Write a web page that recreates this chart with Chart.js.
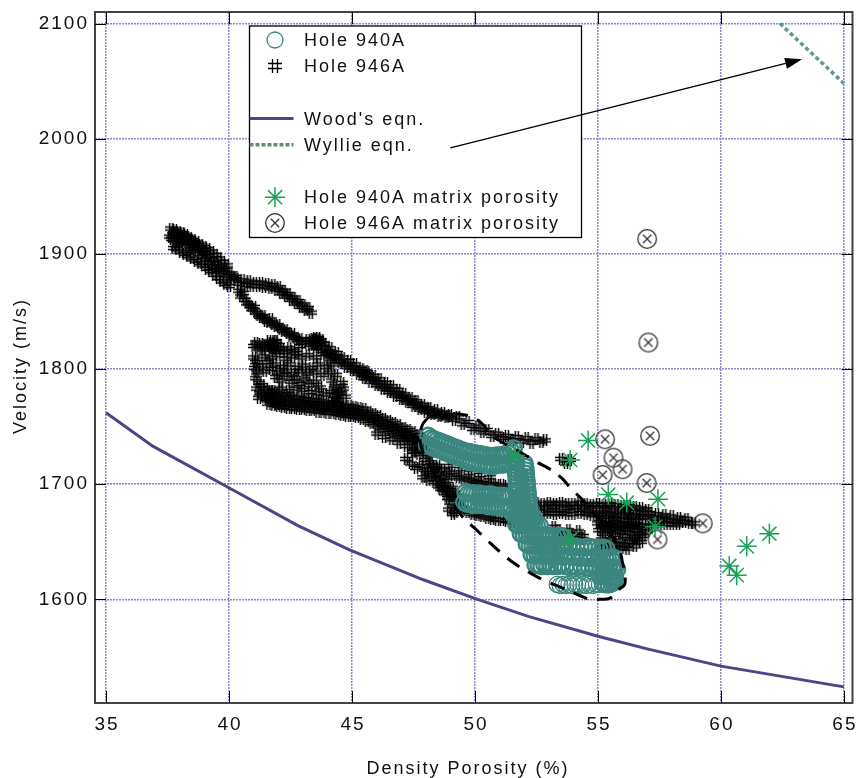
<!DOCTYPE html>
<html>
<head>
<meta charset="utf-8">
<title>Velocity vs density porosity</title>
<script src="https://cdn.jsdelivr.net/npm/chart.js@4.4.1/dist/chart.umd.min.js"></script>
<style>
  html, body { margin: 0; padding: 0; background: #fff; overflow: hidden; }
  canvas { display: block; }
</style>
</head>
<body>
<canvas id="velocityChart" width="864" height="778"></canvas>
<script>
const FONT = '"Liberation Sans", Arial, Helvetica, sans-serif';

// Axis ticks
const xTickValues = [35, 40, 45, 50, 55, 60, 65];
const yTickValues = [1600, 1700, 1800, 1900, 2000, 2100];

// Model curves
const woodPorosity = [35, 36.9, 39.9, 42.8, 44.9, 47.9, 50.1, 52.2, 55, 57, 60, 65];
const woodVelocity = [1762, 1733, 1698, 1664, 1643, 1617, 1600, 1585, 1568, 1557, 1542, 1524];
const wylliePorosity = [62.4, 65];
const wyllieVelocity = [2100, 2048];

// Hole 940A log samples [porosity %, velocity m/s]
const hole940A = [
  // upper lobe
  [48.10,1742],[48.22,1740],[48.34,1739],[48.46,1738],[48.58,1737],[48.70,1736],[48.82,1735],[48.94,1734],
  [49.06,1733],[49.18,1732],[49.30,1731],[49.42,1730],[49.54,1729],[49.66,1728],[49.78,1728],[49.90,1727],
  [50.02,1727],[50.14,1726],[50.26,1726],[50.38,1725],[50.50,1725],[50.62,1724],[50.74,1724],[50.86,1725],
  [50.98,1725],[51.10,1725],[51.22,1726],[51.34,1727],[51.46,1729],[51.58,1731],
  [48.05,1734],[48.16,1733],[48.28,1732],[48.40,1731],[48.52,1730],[48.64,1729],[48.76,1728],[48.88,1727],
  [49.00,1726],[49.12,1725],[49.24,1724],[49.36,1723],[49.48,1722],[49.60,1721],[49.72,1720],[49.84,1719],
  [49.96,1719],[50.08,1718],[50.20,1718],[50.32,1717],[50.44,1717],[50.56,1716],[50.68,1716],[50.80,1716],
  [50.92,1717],[51.04,1717],[51.16,1717],[51.28,1718],[51.40,1719],[51.52,1721],[51.64,1722],
  // steep limb
  [51.68,1722],[51.67,1719],[51.66,1716],[51.66,1713],[51.67,1710],[51.68,1707],[51.70,1704],[51.70,1701],
  [51.71,1698],[51.72,1695],[51.73,1692],[51.74,1689],[51.75,1686],[51.76,1683],[51.78,1680],[51.80,1677],
  [51.82,1674],[51.84,1671],[51.87,1668],
  [52.02,1718],[52.04,1715],[52.06,1712],[52.07,1709],[52.08,1706],[52.10,1703],[52.11,1700],[52.12,1697],
  [52.14,1694],[52.15,1691],[52.17,1688],[52.18,1685],[52.20,1682],[52.22,1679],[52.24,1676],[52.26,1673],
  [52.29,1670],[52.32,1667],
  // middle lobe
  [49.61,1693],[49.73,1692],[49.85,1692],[49.97,1692],[50.09,1692],
  [50.21,1692],[50.33,1691],[50.45,1691],[50.57,1691],[50.69,1691],[50.81,1690],[50.93,1690],[51.05,1690],
  [51.17,1690],[51.29,1689],[51.41,1689],
  [49.56,1684],[49.68,1683],[49.80,1683],[49.92,1682],[50.04,1682],
  [50.16,1682],[50.28,1682],[50.40,1682],[50.52,1681],[50.64,1681],[50.76,1681],[50.88,1681],[51.00,1680],
  [51.12,1680],[51.24,1680],[51.36,1680],[51.48,1679],
  // lower lobe
  [51.55,1674],[51.67,1673],[51.79,1673],[51.91,1674],[52.03,1673],[52.15,1672],[52.27,1673],[52.38,1672],
  [51.68,1665],[51.80,1664],[51.92,1665],[52.04,1665],[52.16,1664],[52.28,1664],[52.40,1665],[52.52,1664],[52.64,1664],
  [51.86,1657],[51.98,1656],[52.10,1656],[52.22,1655],[52.34,1656],[52.46,1656],[52.58,1655],[52.70,1655],
  [52.82,1656],[52.94,1655],[53.06,1655],[53.20,1654],[53.34,1655],[53.48,1655],[53.60,1654],
  [52.10,1648],[52.22,1647],[52.34,1647],[52.46,1647],[52.58,1646],[52.70,1647],[52.82,1647],[52.94,1646],
  [53.06,1647],[53.18,1646],[53.32,1646],[53.48,1647],[53.64,1646],[53.80,1646],[53.96,1645],[54.12,1646],
  [54.28,1645],[54.44,1645],[54.60,1646],[54.76,1645],[54.92,1645],[55.06,1644],[55.20,1645],[55.34,1644],
  [52.30,1639],[52.42,1638],[52.54,1639],[52.66,1638],[52.78,1638],[52.90,1639],[53.02,1638],[53.14,1638],
  [53.28,1637],[53.44,1638],[53.60,1637],[53.76,1638],[53.92,1637],[54.08,1637],[54.24,1636],[54.40,1637],
  [54.56,1636],[54.72,1636],[54.88,1637],[55.04,1636],[55.18,1635],[55.30,1636],[55.42,1635],[55.54,1635],[55.66,1636],
  [52.46,1630],[52.58,1630],[52.70,1629],[52.82,1630],[52.94,1629],[53.06,1630],[53.20,1629],[53.36,1629],
  [53.52,1630],[53.68,1629],[53.84,1628],[54.00,1629],[54.16,1628],[54.32,1629],[54.48,1628],[54.64,1628],
  [54.80,1629],[54.96,1628],[55.10,1627],[55.22,1628],[55.34,1627],[55.46,1628],[55.58,1627],[55.70,1628],[55.78,1626],
  [55.10,1620],[55.22,1621],[55.34,1620],[55.46,1619],[55.58,1620],[55.70,1619],[55.66,1625],[55.64,1617],
  [55.20,1614],[55.32,1613],[55.44,1613],[55.56,1614],[55.66,1615]
];
// deepest 940A samples, a loose row under the lower lobe
const hole940ABase = [
  [53.34,1613],[53.46,1612],[53.58,1613],[53.70,1612],[53.82,1613],[53.94,1612],[54.06,1613],[54.18,1613],
  [54.30,1612],[54.42,1613],[54.54,1612],[54.66,1613],[54.80,1612],[54.94,1613],[55.06,1613]
];

// Hole 946A log samples [porosity %, velocity m/s]
const hole946A = [
  // shallow end
  [37.60,1915],[37.72,1917],[37.80,1912],[37.88,1916],[37.95,1910],[38.02,1914],[38.10,1917],[38.15,1911],
  [38.22,1914],[38.30,1909],[38.36,1912],[38.44,1907],[38.50,1910],[38.56,1905],[38.62,1908],[38.70,1903],
  [38.76,1906],[38.82,1900],[38.88,1904],[38.95,1898],[39.02,1901],[39.08,1895],[39.15,1898],[39.22,1892],
  [39.30,1895],[39.38,1889],[39.46,1892],[39.55,1886],[39.64,1888],[39.74,1884],[39.84,1886],[39.95,1881],
  [40.05,1883],[40.15,1879],[40.26,1880],[37.68,1913],[37.84,1918],[38.05,1909],[38.28,1915],[38.40,1904],
  [37.65,1922],[37.80,1921],[37.95,1919],[38.10,1918],[38.25,1916],[38.40,1914],[38.55,1912],[38.70,1910],
  [38.85,1908],[39.00,1906],[39.15,1904],[39.30,1902],[39.45,1899],[39.60,1896],[39.75,1893],[39.90,1890],
  [37.75,1905],[37.90,1904],[38.05,1902],[38.20,1900],[38.35,1898],[38.50,1896],[38.65,1894],[38.80,1892],
  [38.95,1890],[39.10,1887],[39.25,1885],[39.40,1882],[39.55,1879],[39.70,1876],[39.85,1874],[40.00,1872],
  // upper branch
  [40.30,1878],[40.42,1874],[40.55,1877],[40.68,1873],[40.80,1876],[40.92,1872],[41.05,1875],[41.18,1872],
  [41.30,1875],[41.42,1871],[41.55,1874],[41.68,1870],[41.80,1873],[41.92,1869],[42.02,1871],[42.12,1866],
  [42.22,1868],[42.32,1863],[42.42,1865],[42.52,1860],[42.62,1862],[42.72,1857],[42.82,1859],[42.92,1854],
  [43.02,1856],[43.12,1851],[43.22,1853],[43.32,1849],
  // lower branch
  [40.40,1868],[40.50,1863],[40.58,1866],[40.66,1860],[40.75,1857],[40.84,1855],[40.94,1852],[41.02,1854],
  [41.10,1849],[41.20,1847],[41.30,1845],[41.40,1846],[41.50,1842],[41.60,1841],[41.70,1843],[41.80,1839],
  [41.90,1837],[42.00,1838],[42.10,1835],[42.20,1833],[42.30,1834],[42.40,1831],[42.50,1829],[42.60,1830],
  [42.70,1827],[42.80,1825],[42.90,1826],
  // middle cluster
  [41.00,1820],[41.10,1823],[41.20,1818],[41.30,1822],[41.40,1817],[41.50,1820],[41.62,1824],[41.70,1819],
  [41.75,1822],[41.80,1817],[41.85,1821],[41.90,1824],[41.95,1818],[42.05,1821],[42.15,1817],[42.30,1815],
  [42.45,1818],[42.60,1816],[42.75,1814],[42.90,1820],[43.05,1823],[43.20,1825],[43.30,1821],[43.40,1826],
  [43.45,1822],[43.50,1819],[43.55,1824],[43.62,1827],[43.68,1821],[43.75,1825],[43.85,1822],
  [41.75,1818],[41.85,1824],[41.70,1823],[43.45,1825],[43.55,1821],[43.50,1827],
  [41.02,1810],[41.10,1806],[41.05,1801],[41.15,1797],[41.08,1792],[41.20,1788],[41.15,1783],[41.25,1779],
  [41.22,1775],[41.35,1786],[41.40,1777],[41.50,1781],[41.55,1774],[41.65,1778],[41.75,1772],[41.85,1776],
  [41.95,1770],[42.05,1773],[41.30,1803],[41.45,1798],[41.60,1806],[41.70,1800],
  [41.90,1793],[42.10,1790],[42.30,1795],[42.50,1789],[42.70,1792],[42.90,1787],[43.10,1791],[43.30,1786],
  [43.50,1789],[43.70,1784],
  [41.40,1811],[41.70,1810],[42.00,1812],[42.30,1809],[42.60,1811],[42.90,1810],[43.20,1812],[43.50,1810],
  [43.80,1813],[44.05,1809],
  [41.85,1804],[42.15,1802],[42.45,1804],[42.75,1801],[43.05,1803],[43.35,1801],[43.65,1804],[43.95,1802],[44.20,1804],
  [42.00,1797],[42.30,1798],[42.60,1796],[42.90,1798],[43.20,1796],[43.50,1797],[43.80,1795],[44.10,1797],[44.35,1795],
  [41.80,1781],[42.10,1783],[42.40,1781],[42.70,1783],[43.00,1782],[43.30,1780],[43.60,1779],[43.90,1778],[44.15,1780],
  [44.30,1785],[44.40,1781],[44.35,1777],[44.45,1773],[44.40,1769],[44.50,1779],[44.28,1774],[44.50,1766],
  [44.60,1788],[44.65,1783],[44.70,1776],[44.20,1790],
  // upper limb
  [43.60,1826],[43.70,1818],[43.85,1822],[44.00,1814],[44.12,1818],[44.25,1810],[44.38,1814],[44.50,1806],
  [44.62,1810],[44.75,1802],[44.88,1807],[45.00,1799],[45.12,1804],[45.25,1796],[45.38,1800],[45.50,1792],
  [45.62,1797],[45.75,1789],[45.88,1794],[46.00,1786],[46.12,1791],[46.25,1783],[46.38,1788],[46.50,1780],
  [46.62,1785],[46.75,1777],[46.88,1782],[47.00,1774],[47.12,1778],[47.25,1771],[47.38,1775],[47.50,1768],
  [47.62,1772],[47.75,1765],[47.88,1769],[48.00,1763],[48.14,1766],[48.28,1761],[48.42,1764],[48.56,1759],
  [48.70,1762],[48.84,1758],[48.98,1760],[49.15,1756],[49.30,1758],[49.50,1752],[49.70,1754],[49.90,1748],
  [50.10,1750],[50.30,1745],[50.50,1747],[50.70,1742],[50.90,1744],[51.10,1740],[51.30,1742],[51.50,1738],
  [51.70,1741],[51.90,1737],[52.10,1740],[52.30,1736],[52.50,1739],[52.70,1737],[52.85,1738],
  [53.50,1722],[53.70,1718],[53.85,1721],[45.55,1798],[45.65,1794],[45.45,1795],
  [44.06,1815],[44.31,1811],[44.56,1807],[44.81,1804],[45.06,1801],[45.31,1798],[45.56,1795],[45.81,1792],
  [46.06,1788],[46.31,1785],[46.56,1782],[46.81,1779],[47.06,1776],[47.31,1773],[47.56,1770],[47.81,1767],
  [48.06,1765],[48.35,1762],[48.63,1760],[48.91,1759],
  // lower limb
  [41.50,1783],[41.70,1781],[41.90,1779],[42.10,1778],[42.30,1777],[42.50,1776],[42.70,1775],[42.90,1775],
  [43.10,1774],[43.30,1773],[43.50,1773],[43.70,1772],[43.90,1771],[44.10,1770],[44.30,1770],[44.50,1769],
  [44.70,1768],[44.90,1768],[45.10,1767],[45.30,1766],[45.50,1765],[45.70,1763],[45.90,1761],[46.10,1759],
  [46.30,1757],[46.50,1755],[46.70,1753],[46.90,1751],[47.10,1749],[47.30,1747],[47.50,1745],[47.70,1743],
  [41.60,1770],[41.80,1769],[42.00,1768],[42.20,1767],[42.40,1766],[42.60,1766],[42.80,1765],[43.00,1765],
  [43.20,1764],[43.40,1764],[43.60,1763],[43.80,1763],[44.00,1762],[44.20,1762],[44.40,1761],[44.60,1760],
  [44.80,1759],[45.00,1759],[45.20,1758],[45.40,1757],[45.60,1755],[45.80,1753],[46.00,1751],[46.20,1749],
  [46.40,1747],[46.60,1745],[46.80,1743],[47.00,1741],[47.20,1739],[47.40,1736],[47.60,1733],[47.80,1730],
  [41.55,1776],[41.75,1775],[41.95,1773],[42.15,1772],[42.35,1771],[42.55,1771],[42.75,1770],[42.95,1770],
  [43.15,1769],[43.35,1769],[43.55,1768],[43.75,1767],[43.95,1767],[44.15,1766],[44.35,1765],[44.55,1765],
  [44.75,1764],[44.95,1763],[45.15,1762],[45.35,1761],[45.55,1760],[45.75,1758],[45.95,1756],[46.15,1754],
  [46.35,1752],[46.55,1750],[46.75,1748],[46.95,1746],[47.15,1744],[47.35,1742],[47.55,1739],[47.75,1737],
  [46.00,1744],[46.30,1741],[46.60,1739],[46.90,1736],[47.20,1733],[47.50,1729],
  // deeper interval beneath 940A
  [47.10,1744],[47.30,1741],[47.50,1739],[47.70,1737],[47.20,1722],[47.40,1718],[47.60,1714],[47.80,1716],
  [48.00,1712],[47.90,1706],[48.10,1704],[47.50,1728],[47.70,1726],[47.95,1728],[48.20,1719],[48.40,1714],
  [48.30,1708],[48.50,1704],[48.70,1700],[48.60,1696],[48.80,1692],[48.90,1688],[49.00,1684],[48.95,1678],
  [49.10,1674],[49.20,1676],
  [47.90,1740],[48.05,1735],[47.85,1731],[48.15,1726],[47.95,1721],[48.25,1716],[48.05,1710],[48.35,1702],
  [48.55,1698],[48.75,1696],[48.45,1709],[48.65,1705],[48.85,1703],[49.05,1697],[49.15,1692],[49.25,1688],
  [49.05,1690],[48.95,1695],[49.35,1684],[49.30,1690],[49.45,1680],
  [48.50,1716],[48.70,1712],[48.90,1710],[49.10,1708],[49.30,1706],[49.50,1705],[49.70,1704],[49.90,1703],
  [50.10,1702],[50.30,1701],[50.50,1700],[50.70,1700],[50.90,1699],[51.10,1699],[51.30,1698],[49.00,1716],
  [49.40,1713],[49.80,1710],[50.20,1708],[50.60,1706],
  [49.70,1676],[49.90,1674],[50.10,1673],[50.30,1672],[50.50,1671],[50.70,1670],[50.90,1669],[51.10,1669],
  [51.30,1668],[51.50,1667],[51.70,1667],[49.50,1678],[49.30,1680],
  // deepest interval
  [52.50,1684],[52.75,1683],[53.00,1684],[53.25,1683],[53.50,1684],[53.75,1683],[54.00,1683],[54.25,1684],
  [54.50,1683],[54.75,1682],[55.00,1683],[55.25,1682],[55.50,1683],[55.75,1682],[56.00,1681],[56.25,1681],
  [56.50,1680],[56.75,1679],[57.00,1678],
  [52.60,1679],[52.90,1679],[53.20,1680],[53.50,1679],[53.80,1679],[54.10,1680],[54.40,1679],[54.70,1678],
  [55.00,1678],[55.30,1678],[55.60,1678],[55.90,1677],[56.20,1677],[56.50,1676],[56.80,1675],[57.10,1675],
  [57.40,1674],[57.70,1673],[58.00,1672],[58.30,1671],[58.60,1670],
  [52.50,1675],[52.75,1674],[53.00,1675],[53.25,1674],[53.50,1675],[53.75,1674],[54.00,1674],[54.25,1675],
  [54.50,1674],[54.75,1673],[55.00,1674],[55.25,1673],[55.50,1674],[55.75,1673],[56.00,1673],[56.25,1672],
  [56.50,1672],[56.75,1671],[57.00,1671],[57.25,1670],[57.50,1670],[57.75,1669],[58.00,1668],[58.25,1667],
  [58.50,1667],[58.75,1666],[58.90,1666],
  [55.00,1666],[55.25,1665],[55.50,1666],[55.75,1665],[56.00,1665],[56.25,1664],[56.50,1665],[56.75,1664],
  [57.00,1664],[57.25,1664],[57.50,1665],[57.75,1665],[58.00,1665],[58.25,1665],
  [55.05,1660],[55.25,1657],[55.45,1660],[55.65,1656],[55.85,1659],[56.05,1655],[56.25,1658],[56.45,1654],
  [56.65,1657],[55.15,1652],[55.35,1649],[55.55,1652],[55.75,1648],[55.95,1651],[56.15,1647],[56.35,1650],
  [56.55,1652],[56.75,1650],[55.10,1670],[55.40,1669],[55.70,1670],[56.00,1669],[56.30,1668],[56.60,1668],
  [55.15,1664],[55.35,1662],[55.55,1664],[55.75,1661],[55.95,1663],[56.15,1661],[56.35,1663],[56.55,1660],
  [56.75,1662],[55.20,1645],[55.45,1644],[55.70,1644],[55.95,1645],[56.20,1644],[56.50,1646],[56.85,1655],[57.00,1659],
  [53.40,1660],[53.60,1657],[53.80,1660],[54.00,1656],[54.20,1659],[54.40,1655],[53.50,1652],[53.90,1651],
  [54.30,1652],[53.20,1663]
];

// Core-based matrix porosity
const matrix940A = [[51.63,1725],[54.60,1738],[53.87,1721],[55.42,1691],[56.17,1684],[57.44,1687],
  [57.32,1663],[53.87,1652],[60.34,1629],[60.64,1621],[61.05,1646],[61.97,1657]];
const matrix946A = [[57.00,1913],[57.05,1823],[55.29,1739],[57.12,1742],[55.63,1723],[56.00,1713],
  [55.19,1708],[56.98,1701],[59.26,1666],[57.42,1652]];

// Dashed envelope around the 940A cloud
const envelopePorosity = [48.10,48.79,49.60,50.21,50.70,51.14,51.83,52.44,53.05,53.54,53.95,54.35,54.76,
  55.21,55.61,55.82,55.98,56.10,55.82,55.49,55.08,54.68,54.19,53.54,52.76,52.24,51.83,51.30,50.41,50.08,
  49.52,49.27,48.91,48.38,47.93,47.77,47.85,48.10];
const envelopeVelocity = [1758,1761,1760,1754,1742,1736,1728,1720,1713,1705,1695,1687,1676,1666,1654,
  1645,1634,1614,1608,1601,1600,1600,1604,1610,1617,1623,1628,1636,1653,1660,1671,1678,1689,1708,1725,
  1738,1751,1758];

// Arrow from the legend towards the Wyllie curve
const arrowFrom = [49.0, 1992];
const arrowTo = [63.3, 2069];

const legendRows = [
  { label: 'Hole 940A', kind: 'circle' },
  { label: 'Hole 946A', kind: 'hash' },
  null,
  { label: "Wood's eqn.", kind: 'wood' },
  { label: 'Wyllie eqn.', kind: 'wyllie' },
  null,
  { label: 'Hole 940A matrix porosity', kind: 'star' },
  { label: 'Hole 946A matrix porosity', kind: 'circlex' }
];

const TEAL = '#3b867f';
const GREEN = '#19a255';
const WOOD = '#4b4786';
const WYLLIE = '#5f9a92';
const GRID = '#8e87c6';

const toXY = arr => arr.map(p => ({ x: p[0], y: p[1] }));
const zipXY = (xs, ys) => xs.map((v, i) => ({ x: v, y: ys[i] }));

function makeHash() {
  const c = document.createElement('canvas');
  c.width = 12; c.height = 12;
  const g = c.getContext('2d');
  g.strokeStyle = '#000';
  g.lineWidth = 1.5;
  g.beginPath();
  [4.5, 7.5].forEach(p => {
    g.moveTo(p, 0); g.lineTo(p, 12);
    g.moveTo(0, p); g.lineTo(12, p);
  });
  g.stroke();
  return c;
}

function makeCircleX() {
  const c = document.createElement('canvas');
  c.width = 22; c.height = 22;
  const g = c.getContext('2d');
  g.strokeStyle = '#333';
  g.lineWidth = 1.3;
  g.beginPath();
  g.arc(11, 11, 9.3, 0, Math.PI * 2);
  g.moveTo(6.8, 6.8); g.lineTo(15.2, 15.2);
  g.moveTo(15.2, 6.8); g.lineTo(6.8, 15.2);
  g.stroke();
  return c;
}

const hashGlyph = makeHash();
const circleXGlyph = makeCircleX();

function drawStar(ctx, cx, cy, r) {
  ctx.save();
  ctx.strokeStyle = GREEN;
  ctx.lineWidth = 1.5;
  ctx.beginPath();
  for (let k = 0; k < 4; k++) {
    const a = k * Math.PI / 4;
    ctx.moveTo(cx - r * Math.cos(a), cy - r * Math.sin(a));
    ctx.lineTo(cx + r * Math.cos(a), cy + r * Math.sin(a));
  }
  ctx.stroke();
  ctx.restore();
}

function drawLegend(ctx, area) {
  const left = area.left + 154.5, top = area.top + 14;
  const w = 332, h = 211.5;
  ctx.save();
  ctx.fillStyle = '#fff';
  ctx.fillRect(left, top, w, h);
  ctx.strokeStyle = '#000';
  ctx.lineWidth = 1.3;
  ctx.strokeRect(left, top, w, h);
  ctx.font = '18px ' + FONT;
  ctx.fillStyle = '#111';
  ctx.textBaseline = 'middle';
  ctx.textAlign = 'left';
  const sx = left + 25.5;
  legendRows.forEach((row, i) => {
    if (!row) return;
    const ry = top + 14 + i * 26.2;
    ctx.save();
    if (row.kind === 'circle') {
      ctx.strokeStyle = TEAL; ctx.lineWidth = 1.3;
      ctx.beginPath(); ctx.arc(sx, ry, 8, 0, Math.PI * 2); ctx.stroke();
    } else if (row.kind === 'hash') {
      const cx = Math.round(sx), cy = Math.round(ry);
      ctx.strokeStyle = '#000'; ctx.lineWidth = 1.3;
      ctx.beginPath();
      [-2.5, 2.5].forEach(d => {
        ctx.moveTo(cx + d, cy - 7); ctx.lineTo(cx + d, cy + 7);
        ctx.moveTo(cx - 7, cy + d); ctx.lineTo(cx + 7, cy + d);
      });
      ctx.stroke();
    } else if (row.kind === 'wood') {
      ctx.strokeStyle = WOOD; ctx.lineWidth = 3;
      ctx.beginPath(); ctx.moveTo(left, ry); ctx.lineTo(left + 44, ry); ctx.stroke();
    } else if (row.kind === 'wyllie') {
      ctx.strokeStyle = '#5f8f70'; ctx.lineWidth = 3.5; ctx.setLineDash([4, 2]);
      ctx.beginPath(); ctx.moveTo(left, ry); ctx.lineTo(left + 44, ry); ctx.stroke();
    } else if (row.kind === 'star') {
      drawStar(ctx, sx, ry, 10);
    } else if (row.kind === 'circlex') {
      ctx.drawImage(circleXGlyph, Math.round(sx - 11), Math.round(ry - 11));
    }
    ctx.restore();
    ctx.fillText(row.label, left + 54.5, ry + 1);
  });
  ctx.restore();
}

function drawArrow(ctx, xs, ys) {
  const x0 = xs.getPixelForValue(arrowFrom[0]), y0 = ys.getPixelForValue(arrowFrom[1]);
  const x1 = xs.getPixelForValue(arrowTo[0]), y1 = ys.getPixelForValue(arrowTo[1]);
  const ang = Math.atan2(y1 - y0, x1 - x0);
  const len = 17, half = 5.5;
  const bx = x1 - len * Math.cos(ang), by = y1 - len * Math.sin(ang);
  ctx.save();
  ctx.strokeStyle = '#000';
  ctx.fillStyle = '#000';
  ctx.lineWidth = 1.5;
  ctx.beginPath(); ctx.moveTo(x0, y0); ctx.lineTo(bx, by); ctx.stroke();
  ctx.beginPath();
  ctx.moveTo(x1, y1);
  ctx.lineTo(bx + half * Math.sin(ang), by - half * Math.cos(ang));
  ctx.lineTo(bx - half * Math.sin(ang), by + half * Math.cos(ang));
  ctx.closePath();
  ctx.fill();
  ctx.restore();
}

const decorPlugin = {
  id: 'decor',
  beforeDraw(chart) {
    chart.ctx.letterSpacing = '2px';
  },
  afterDatasetsDraw(chart) {
    const { ctx, chartArea, scales } = chart;
    drawLegend(ctx, chartArea);
    drawArrow(ctx, scales.x, scales.y);
  },
  afterDraw(chart) {
    const { ctx, chartArea: a, scales: { x, y } } = chart;
    ctx.save();
    // frame
    ctx.strokeStyle = '#444';
    ctx.lineWidth = 2;
    ctx.strokeRect(a.left, a.top, a.right - a.left, a.bottom - a.top);
    // inward tick marks on all four sides
    ctx.strokeStyle = '#000';
    ctx.lineWidth = 1;
    ctx.beginPath();
    xTickValues.forEach(v => {
      const px = Math.round(x.getPixelForValue(v)) + 0.5;
      ctx.moveTo(px, a.top); ctx.lineTo(px, a.top + 12);
      ctx.moveTo(px, a.bottom); ctx.lineTo(px, a.bottom - 12);
    });
    yTickValues.forEach(v => {
      const py = Math.round(y.getPixelForValue(v)) + 0.5;
      ctx.moveTo(a.left, py); ctx.lineTo(a.left + 11, py);
      ctx.moveTo(a.right, py); ctx.lineTo(a.right - 11, py);
    });
    ctx.stroke();
    // porosity tick labels
    ctx.fillStyle = '#111';
    ctx.font = '19px ' + FONT;
    ctx.textAlign = 'center';
    ctx.textBaseline = 'alphabetic';
    xTickValues.forEach(v => {
      ctx.fillText(String(v), x.getPixelForValue(v) + 1, a.bottom + 27);
    });
    // axis titles
    ctx.font = '18px ' + FONT;
    ctx.fillText('Density Porosity (%)', 468, 774);
    ctx.translate(26, 366);
    ctx.rotate(-Math.PI / 2);
    ctx.fillText('Velocity (m/s)', 0, 0);
    ctx.restore();
  }
};

new Chart(document.getElementById('velocityChart'), {
  type: 'scatter',
  data: {
    datasets: [
      {
        label: 'Hole 940A',
        data: toXY(hole940A),
        pointStyle: 'circle',
        pointRadius: 8,
        pointHoverRadius: 8,
        borderColor: TEAL,
        backgroundColor: 'transparent',
        borderWidth: 2.4,
        order: 3
      },
      {
        label: 'Hole 940A',
        data: toXY(hole940ABase),
        pointStyle: 'circle',
        pointRadius: 8,
        pointHoverRadius: 8,
        borderColor: TEAL,
        backgroundColor: 'transparent',
        borderWidth: 1.2,
        order: 3
      },
      {
        label: 'Hole 946A',
        data: toXY(hole946A),
        pointStyle: hashGlyph,
        pointRadius: 6,
        order: 4
      },
      {
        label: "Wood's eqn.",
        data: zipXY(woodPorosity, woodVelocity),
        showLine: true,
        pointRadius: 0,
        borderColor: WOOD,
        borderWidth: 3,
        order: 6
      },
      {
        label: 'Wyllie eqn.',
        data: zipXY(wylliePorosity, wyllieVelocity),
        showLine: true,
        pointRadius: 0,
        borderColor: WYLLIE,
        borderWidth: 3.5,
        borderDash: [4, 3],
        order: 5
      },
      {
        label: 'Hole 940A matrix porosity',
        data: toXY(matrix940A),
        pointStyle: 'star',
        pointRadius: 10,
        borderColor: GREEN,
        borderWidth: 1.5,
        order: 0
      },
      {
        label: 'Hole 946A matrix porosity',
        data: toXY(matrix946A),
        pointStyle: circleXGlyph,
        pointRadius: 10,
        order: 1
      },
      {
        label: 'envelope',
        data: zipXY(envelopePorosity, envelopeVelocity),
        showLine: true,
        pointRadius: 0,
        borderColor: '#000',
        borderWidth: 3,
        borderDash: [15, 10],
        tension: 0.4,
        order: 2
      }
    ]
  },
  options: {
    responsive: false,
    animation: false,
    devicePixelRatio: 1,
    layout: { padding: { top: 12, right: 3, left: 0, bottom: 0 } },
    plugins: {
      legend: { display: false },
      tooltip: { enabled: false }
    },
    scales: {
      x: {
        type: 'linear',
        min: 34.55,
        max: 65.35,
        afterBuildTicks: s => { s.ticks = xTickValues.map(v => ({ value: v })); },
        afterFit: s => { s.height = 75; },
        grid: { color: GRID, lineWidth: 1.5, drawTicks: false },
        border: { display: false, dash: [2, 1] },
        ticks: { display: false }
      },
      y: {
        type: 'linear',
        min: 1510,
        max: 2110,
        afterBuildTicks: s => { s.ticks = yTickValues.map(v => ({ value: v })); },
        afterFit: s => { s.width = 95; s.paddingTop = 0; s.paddingBottom = 0; },
        grid: { color: GRID, lineWidth: 1.5, drawTicks: false },
        border: { display: false, dash: [2, 1] },
        ticks: { color: '#111', font: { family: FONT, size: 19 }, padding: 6, autoSkip: false,
                 callback: v => String(v) }
      }
    }
  },
  plugins: [decorPlugin]
});
</script>
</body>
</html>
